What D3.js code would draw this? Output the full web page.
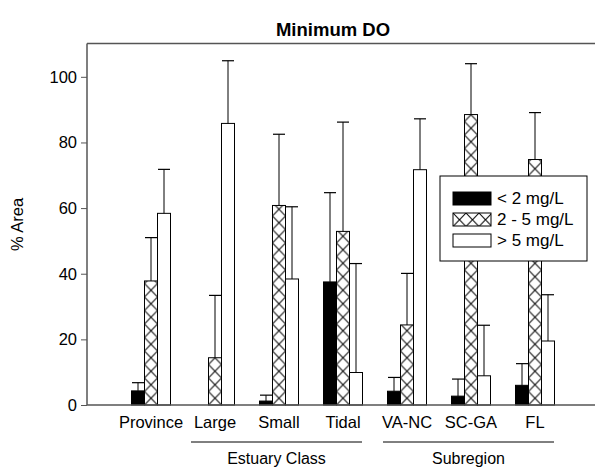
<!DOCTYPE html>
<html>
<head>
<meta charset="utf-8">
<script src="https://cdn.jsdelivr.net/npm/d3@7"></script>
<style>
  body { margin: 0; background: #fff; }
  text { font-family: "Liberation Sans", Arial, sans-serif; fill: #000; }
</style>
</head>
<body>
<div id="chart"></div>
<script>
// data
let categories = ['Province', 'Large', 'Small', 'Tidal', 'VA-NC', 'SC-GA', 'FL'];
let series = ['< 2 mg/L', '2 - 5 mg/L', '> 5 mg/L'];
let lowDO = [4.3, 0, 1.2, 37.5, 4.2, 2.7, 6.0];
let lowUpper = [6.8, 0, 3.0, 64.7, 8.4, 7.9, 12.6];
let midDO = [37.8, 14.4, 60.8, 52.9, 24.4, 88.5, 74.8];
let midUpper = [51.0, 33.4, 82.5, 86.2, 40.1, 104.0, 89.1];
let highDO = [58.4, 85.8, 38.4, 9.9, 71.7, 8.9, 19.5];
let highUpper = [71.8, 104.9, 60.4, 43.1, 87.2, 24.3, 33.6];
let yTicks = [0, 20, 40, 60, 80, 100];
let groups = [
    { label: 'Estuary Class', from: 'Large', to: 'Tidal' },
    { label: 'Subregion', from: 'VA-NC', to: 'FL' }
];

let svgWidth = 595;
let svgHeight = 470;

let svg = d3.select('#chart').append('svg')
    .attr('width', svgWidth)
    .attr('height', svgHeight);

// hatch pattern for the middle class
let defs = svg.append('defs');
let pat = defs.append('pattern')
    .attr('id', 'cross')
    .attr('patternUnits', 'userSpaceOnUse')
    .attr('width', 13)
    .attr('height', 13.5);
pat.append('rect').attr('width', 13).attr('height', 13.5).attr('fill', '#fff');
pat.append('path')
    .attr('d', 'M0,0L13,13.5M13,0L0,13.5')
    .attr('stroke', '#000')
    .attr('stroke-width', 1);

let fills = ['#000', 'url(#cross)', '#fff'];

// scales
let xScale = d3.scaleLinear().domain([0, 8]).range([87, 599]);
let yScale = d3.scaleLinear().domain([0, 110]).range([405, 44]);
let subScale = d3.scaleBand().domain(series).range([-19.5, 19.5]);
let barW = subScale.bandwidth();

let rows = categories.map((c, i) => ({
    cat: c,
    pos: i + 1,
    vals: [
        { s: series[0], v: lowDO[i], up: lowUpper[i] },
        { s: series[1], v: midDO[i], up: midUpper[i] },
        { s: series[2], v: highDO[i], up: highUpper[i] }
    ]
}));

// title
svg.append('text')
    .attr('x', 333)
    .attr('y', 36)
    .attr('text-anchor', 'middle')
    .style('font-size', '18.5px')
    .style('font-weight', 'bold')
    .text('Minimum DO');

// bars
let catG = svg.selectAll('.cat')
    .data(rows)
    .enter().append('g')
    .attr('class', 'cat');

catG.each(function(d) {
    let g = d3.select(this);
    d.vals.forEach((b, j) => {
        if (b.v <= 0) return;
        let bx = xScale(d.pos) + subScale(b.s);
        // each bar in its own space so the hatch lines up with the bar
        let bg = g.append('g').attr('transform', `translate(${bx},${yScale(0)})`);
        bg.append('rect')
            .attr('x', 0)
            .attr('y', yScale(b.v) - yScale(0))
            .attr('width', barW)
            .attr('height', yScale(0) - yScale(b.v))
            .attr('fill', fills[j])
            .attr('stroke', '#000')
            .attr('stroke-width', 1);
        // error bar
        let cx = bx + barW / 2;
        g.append('line')
            .attr('x1', cx).attr('x2', cx)
            .attr('y1', yScale(b.v)).attr('y2', yScale(b.up))
            .attr('stroke', '#000').attr('stroke-width', 1);
        g.append('line')
            .attr('x1', cx - 6).attr('x2', cx + 6)
            .attr('y1', yScale(b.up)).attr('y2', yScale(b.up))
            .attr('stroke', '#000').attr('stroke-width', 1.2);
    });
});

// frame
svg.append('line')
    .attr('x1', 87).attr('x2', 595)
    .attr('y1', 43.5).attr('y2', 43.5)
    .attr('stroke', '#555').attr('stroke-width', 1.5);
svg.append('line')
    .attr('x1', 87).attr('x2', 595)
    .attr('y1', 405).attr('y2', 405)
    .attr('stroke', '#555').attr('stroke-width', 1.5);

let yAxis = svg.append('g')
    .attr('transform', 'translate(87,0)')
    .call(d3.axisLeft(yScale).tickValues(yTicks).tickSize(6).tickSizeOuter(0).tickPadding(4));
yAxis.select('.domain').attr('stroke', '#555').attr('stroke-width', 1.5)
    .attr('d', `M0,${yScale(0)}V43.5`);
yAxis.selectAll('.tick line').attr('stroke', '#555');
yAxis.selectAll('.tick text')
    .style('font-size', '16.5px')
    .style('font-family', '"Liberation Sans", Arial, sans-serif')
    .attr('fill', '#000');

svg.append('text')
    .attr('transform', `translate(23,${yScale(55)}) rotate(-90)`)
    .attr('text-anchor', 'middle')
    .style('font-size', '16.5px')
    .text('% Area');

// category labels
svg.selectAll('.catlabel')
    .data(rows)
    .enter().append('text')
    .attr('class', 'catlabel')
    .attr('x', d => xScale(d.pos))
    .attr('y', 428)
    .attr('text-anchor', 'middle')
    .style('font-size', '16.5px')
    .text(d => d.cat);

// group brackets
groups.forEach(gr => {
    let x1 = xScale(categories.indexOf(gr.from) + 1) - 24;
    let x2 = xScale(categories.indexOf(gr.to) + 1) + 19;
    svg.append('line')
        .attr('x1', x1).attr('x2', x2)
        .attr('y1', 442).attr('y2', 442)
        .attr('stroke', '#000').attr('stroke-width', 1);
    svg.append('text')
        .attr('x', (x1 + x2) / 2)
        .attr('y', 464)
        .attr('text-anchor', 'middle')
        .style('font-size', '16px')
        .text(gr.label);
});

// legend
let legend = svg.append('g').attr('transform', 'translate(440,176)');
legend.append('rect')
    .attr('width', 147).attr('height', 85)
    .attr('fill', '#fff').attr('stroke', '#000').attr('stroke-width', 1);
series.forEach((s, i) => {
    let ly = 16 + i * 21;
    legend.append('g').attr('transform', `translate(13,${ly})`)
        .append('rect')
        .attr('width', 38).attr('height', 13)
        .attr('fill', fills[i])
        .attr('stroke', '#000').attr('stroke-width', 1);
    legend.append('text')
        .attr('x', 57)
        .attr('y', ly + 12)
        .style('font-size', '17px')
        .text(s);
});
</script>
</body>
</html>
